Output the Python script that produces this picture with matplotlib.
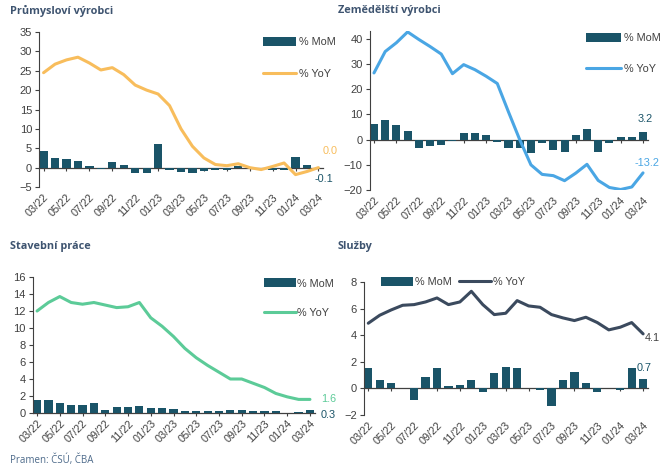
import matplotlib
matplotlib.use("Agg")
import matplotlib.pyplot as plt

# měsíce 03/22 .. 03/24
months = ["03/22", "04/22", "05/22", "06/22", "07/22", "08/22", "09/22", "10/22", "11/22", "12/22",
          "01/23", "02/23", "03/23", "04/23", "05/23", "06/23", "07/23", "08/23", "09/23", "10/23",
          "11/23", "12/23", "01/24", "02/24", "03/24"]

prum_mom = [4.4, 2.6, 2.1, 1.6, 0.5, -0.3, 1.4, 0.8, -1.3, -1.3, 6.1, -0.5, -1.2, -1.4, -0.9,
            -0.5, -0.5, 0.3, 0.2, -0.3, -0.5, -0.6, 2.7, 0.7, -0.1]
prum_yoy = [24.5, 26.7, 27.8, 28.5, 27.0, 25.2, 25.8, 24.0, 21.3, 20.0, 19.0, 16.0, 10.0, 5.5,
            2.5, 0.8, 0.5, 1.0, 0.0, -0.5, 0.3, 1.2, -1.8, -1.0, 0.0]

zem_mom = [6.2, 7.8, 5.8, 3.5, -3.3, -2.5, -2.2, -0.7, 2.5, 2.5, 1.8, -0.8, -3.3, -3.5, -5.4,
           -1.2, -4.3, -4.8, 2.0, 4.3, -5.0, -1.4, 1.0, 1.0, 3.2]
zem_yoy = [26.5, 35.0, 38.5, 42.8, 39.8, 37.0, 34.0, 26.2, 29.8, 27.8, 25.2, 22.3, 11.0, 0.0,
           -10.0, -13.8, -14.3, -16.3, -13.3, -9.8, -16.2, -19.0, -19.8, -18.8, -13.2]

stav_mom = [1.5, 1.5, 1.2, 1.0, 0.95, 1.2, 0.35, 0.65, 0.65, 0.8, 0.55, 0.55, 0.45, 0.25, 0.25,
            0.2, 0.25, 0.4, 0.35, 0.2, 0.2, 0.2, 0.0, 0.15, 0.3]
stav_yoy = [12.0, 13.0, 13.7, 13.0, 12.8, 13.0, 12.7, 12.4, 12.5, 13.0, 11.2, 10.2, 9.0, 7.6,
            6.5, 5.6, 4.8, 4.0, 4.0, 3.5, 3.0, 2.3, 1.9, 1.6, 1.6]

sluz_mom = [1.5, 0.6, 0.4, 0.0, -0.85, 0.85, 1.5, 0.15, 0.25, 0.65, -0.3, 1.15, 1.6, 1.5, 0.0,
            -0.1, -1.35, 0.65, 1.25, 0.4, -0.25, 0.0, -0.1, 1.5, 0.7]
sluz_yoy = [4.9, 5.5, 5.9, 6.25, 6.3, 6.5, 6.8, 6.3, 6.5, 7.3, 6.3, 5.55, 5.65, 6.6, 6.2, 6.1,
            5.55, 5.3, 5.1, 5.35, 4.95, 4.4, 4.6, 4.95, 4.1]

BAR = "#1a5468"
TITLE_C = "#3e5470"
TXT = "#404040"

W, H = 670, 473
fig = plt.figure(figsize=(6.7, 4.73), dpi=100)
plt.rcParams['font.family'] = ['Liberation Sans', 'DejaVu Sans']


def panel(left, width, top, bottom, ylim, yticks, mom, yoy, color, title, tx, ty):
    ax = fig.add_axes([left / W, 1 - bottom / H, width / W, (bottom - top) / H])
    x = list(range(len(months)))
    ax.bar(x, mom, width=0.72, color=BAR, label="% MoM", zorder=2)
    ax.plot(x, yoy, color=color, lw=2.2, label="% YoY", zorder=3, solid_capstyle='round')
    ax.set_xlim(-0.4, 24.4)
    ax.set_ylim(*ylim)
    ax.set_yticks(yticks)
    ax.set_xticks(x[::2])
    ax.set_xticklabels(months[::2], rotation=45, ha='right', rotation_mode='anchor')
    for s in ['top', 'right', 'bottom']:
        ax.spines[s].set_visible(False)
    ax.spines['left'].set_color(TXT)
    ax.spines['left'].set_linewidth(0.8)
    ax.tick_params(axis='y', length=3, width=0.8, color=TXT, labelsize=8, labelcolor=TXT, pad=2)
    ax.tick_params(axis='x', length=0, labelsize=7.8, labelcolor=TXT, pad=4)
    # nulová osa s drobnými ticky
    sec = ax.secondary_xaxis(0, transform=ax.transData)
    sec.set_xticks(x[::2])
    sec.set_xticklabels([])
    sec.tick_params(length=2, width=0.8, color=TXT)
    sec.spines['bottom'].set_color(TXT)
    sec.spines['bottom'].set_linewidth(0.9)
    fig.text(tx / W, 1 - ty / H, title, fontsize=7.8, fontweight='bold', color=TITLE_C,
             family=['Open Sans', 'DejaVu Sans'], va='center')
    return ax


def legend(ax, **kw):
    h, l = ax.get_legend_handles_labels()
    # sloupce první, pak čára
    order = [l.index("% MoM"), l.index("% YoY")]
    ax.legend([h[i] for i in order], [l[i] for i in order], frameon=False, fontsize=7.8,
              handleheight=0.9, borderpad=0, borderaxespad=0, labelcolor=TXT, **kw)


# Průmysloví výrobci
ax1 = panel(39, 284, 32, 187, (-5, 35), range(-5, 36, 5), prum_mom, prum_yoy, "#f8bd5c",
            "Průmysloví výrobci", 10, 11)
legend(ax1, loc='upper left', bbox_to_anchor=(0.79, 0.97), handlelength=3.0,
       labelspacing=2.0, handletextpad=0.3)
ax1.annotate("0.0", xy=(24, prum_yoy[-1]), xytext=(3, 12), textcoords='offset points',
             color="#f8bd5c", fontsize=7.8, va='center')
ax1.annotate("-0.1", xy=(24, prum_mom[-1]), xytext=(-3, -8), textcoords='offset points',
             color=BAR, fontsize=7.8, va='center')

# Zemědělští výrobci
ax2 = panel(369.5, 278, 31.4, 190, (-20, 43), range(-20, 41, 10), zem_mom, zem_yoy, "#4aa6e4",
            "Zemědělští výrobci", 338, 11)
legend(ax2, loc='upper left', bbox_to_anchor=(0.78, 0.99), handlelength=3.2,
       labelspacing=1.9, handletextpad=0.3)
ax2.annotate("3.2", xy=(24, zem_mom[-1]), xytext=(-4, 9), textcoords='offset points',
             color=BAR, fontsize=7.8, va='center')
ax2.annotate("-13.2", xy=(24, zem_yoy[-1]), xytext=(-6, 7), textcoords='offset points',
             color="#4aa6e4", fontsize=7.8, va='center')

# Stavební práce
ax3 = panel(32.5, 282, 277, 413, (0, 16), range(0, 17, 2), stav_mom, stav_yoy, "#5ccb98",
            "Stavební práce", 10, 246)
legend(ax3, loc='upper left', bbox_to_anchor=(0.82, 0.99), handlelength=3.0,
       labelspacing=1.8, handletextpad=0.1)
ax3.annotate("1.6", xy=(24, stav_yoy[-1]), xytext=(8, 0), textcoords='offset points',
             color="#5ccb98", fontsize=7.8, va='center')
ax3.annotate("0.3", xy=(24, stav_mom[-1]), xytext=(8, -3), textcoords='offset points',
             color=BAR, fontsize=7.8, va='center')

# Služby
ax4 = panel(363.7, 284, 282, 415, (-2, 8), range(-2, 9, 2), sluz_mom, sluz_yoy, "#3b4a5e",
            "Služby", 338, 246)
legend(ax4, loc='upper left', bbox_to_anchor=(0.06, 1.04), ncol=2, handlelength=3.0,
       handletextpad=0.2, columnspacing=0.6)
ax4.annotate("4.1", xy=(24, sluz_yoy[-1]), xytext=(1, -3), textcoords='offset points',
             color=TXT, fontsize=7.8, va='center')
ax4.annotate("0.7", xy=(24, sluz_mom[-1]), xytext=(-5, 8), textcoords='offset points',
             color=BAR, fontsize=7.8, va='center')

fig.text(10 / W, 1 - 460 / H, "Pramen: ČSÚ, ČBA", fontsize=7, color="#4d6a8a",
         family=['Open Sans', 'DejaVu Sans'], va='center')

fig.savefig("out.png", dpi=100)
